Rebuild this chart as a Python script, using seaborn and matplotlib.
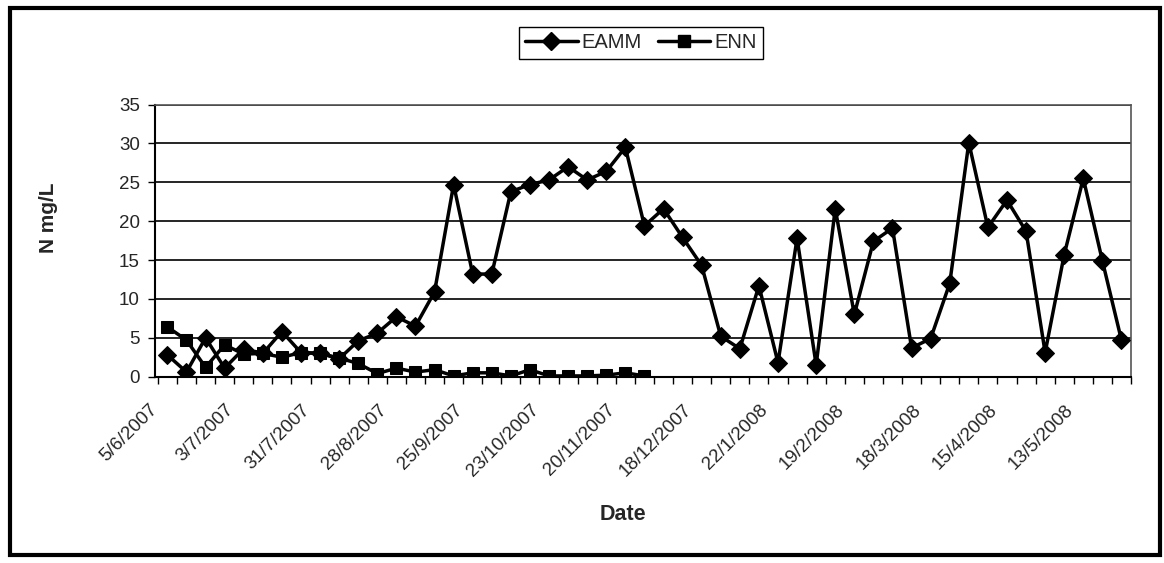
import matplotlib
matplotlib.use('Agg')
import matplotlib.pyplot as plt
from matplotlib.lines import Line2D
from matplotlib.patches import Rectangle
import seaborn as sns
import pandas as pd
import numpy as np

# sampling dates (category axis, roughly weekly)
dates = ['5/6/2007', '12/6/2007', '19/6/2007', '26/6/2007', '3/7/2007', '10/7/2007',
         '17/7/2007', '24/7/2007', '31/7/2007', '7/8/2007', '14/8/2007', '21/8/2007',
         '28/8/2007', '4/9/2007', '11/9/2007', '18/9/2007', '25/9/2007', '2/10/2007',
         '9/10/2007', '16/10/2007', '23/10/2007', '30/10/2007', '6/11/2007', '13/11/2007',
         '20/11/2007', '27/11/2007', '4/12/2007', '11/12/2007', '18/12/2007', '2/1/2008',
         '8/1/2008', '15/1/2008', '22/1/2008', '29/1/2008', '5/2/2008', '12/2/2008',
         '19/2/2008', '26/2/2008', '4/3/2008', '11/3/2008', '18/3/2008', '25/3/2008',
         '1/4/2008', '8/4/2008', '15/4/2008', '22/4/2008', '29/4/2008', '6/5/2008',
         '13/5/2008', '20/5/2008', '27/5/2008']

eamm = [2.8, 0.6, 5.0, 1.1, 3.6, 3.0, 5.8, 3.1, 3.0, 2.3, 4.6, 5.6, 7.7, 6.5, 10.9,
        24.7, 13.2, 13.2, 23.8, 24.7, 25.3, 27.0, 25.3, 26.4, 29.5, 19.4, 21.6, 17.9,
        14.3, 5.2, 3.6, 11.7, 1.8, 17.8, 1.5, 21.6, 8.0, 17.4, 19.1, 3.7, 4.9, 12.0,
        30.1, 19.2, 22.7, 18.7, 3.1, 15.7, 25.5, 14.9, 4.7]

enn = [6.4, 4.7, 1.2, 4.1, 2.9, 3.0, 2.5, 3.1, 3.0, 2.4, 1.7, 0.4, 1.1, 0.6, 0.9,
       0.1, 0.5, 0.5, 0.1, 0.9, 0.1, 0.1, 0.1, 0.2, 0.5, 0.1]

sns.set_style('white')
plt.rcParams['font.family'] = ['Liberation Sans', 'DejaVu Sans']

df = pd.DataFrame({'idx': range(len(dates)), 'date': dates, 'EAMM': eamm,
                   'ENN': enn + [np.nan] * (len(dates) - len(enn))})
long = df.melt(id_vars=['idx', 'date'], value_vars=['EAMM', 'ENN'],
               var_name='series', value_name='N').dropna()

fig = plt.figure(figsize=(11.64, 5.63), dpi=100)
ax = fig.add_axes([155 / 1164, 1 - 376.7 / 563, 976 / 1164, 272.2 / 563])

sns.lineplot(data=long, x='idx', y='N', hue='series', style='series',
             markers={'EAMM': 'D', 'ENN': 's'}, dashes=False,
             palette={'EAMM': 'black', 'ENN': 'black'},
             linewidth=2.5, markersize=9, markeredgecolor='black',
             ax=ax, legend=False, zorder=3)

ax.set_xlim(-0.5, len(dates) - 0.5)
ax.set_ylim(0, 35)
ax.set_yticks(range(0, 36, 5))
ax.yaxis.grid(True, color='black', linewidth=1.2)
ax.set_axisbelow(True)

# tick marks between categories, labels every 4th category
ax.set_xticks(np.arange(-0.5, len(dates), 1))
ax.set_xticklabels([])
lab_idx = list(range(0, len(dates), 4))
ax.set_xticks([i - 0.65 for i in lab_idx], minor=True)
ax.set_xticklabels([dates[i] for i in lab_idx], minor=True, rotation=45,
                   ha='right', va='center', rotation_mode='anchor', fontsize=13.5)
ax.tick_params(axis='x', which='major', direction='out', length=5, width=1, color='black', bottom=True)
ax.tick_params(axis='x', which='minor', length=0, pad=22)
ax.tick_params(axis='y', direction='out', length=5, width=1, color='black', left=True, labelsize=13.5, pad=6)
ax.set_xlabel('')
ax.set_ylabel('')

for s in ['left', 'bottom']:
    ax.spines[s].set_color('black')
    ax.spines[s].set_linewidth(1.5)
for s in ['top', 'right']:
    ax.spines[s].set_color('#555555')
    ax.spines[s].set_linewidth(1.2)

fig.text(48 / 1164, 1 - 218 / 563, 'N mg/L', rotation=90, ha='center', va='center',
         fontsize=15, fontweight='bold')
fig.text(623 / 1164, 1 - 514 / 563, 'Date', ha='center', va='center',
         fontsize=15.5, fontweight='bold')

handles = [Line2D([], [], color='black', lw=2.5, marker='D', markersize=9, label='EAMM'),
           Line2D([], [], color='black', lw=2.5, marker='s', markersize=9, label='ENN')]
leg = fig.legend(handles=handles, loc='center', bbox_to_anchor=(641 / 1164, 1 - 43 / 563),
                 ncol=2, frameon=True, fancybox=False, edgecolor='black', fontsize=14.5,
                 handlelength=2.6, handletextpad=0.2, columnspacing=0.8,
                 borderpad=0.3, framealpha=1)
leg.get_frame().set_linewidth(1.0)

fig.patches.append(Rectangle((10 / 1164, 8 / 563), 1150 / 1164, 547 / 563,
                             transform=fig.transFigure, fill=False,
                             edgecolor='black', linewidth=3))

fig.savefig('out.png', dpi=100)
